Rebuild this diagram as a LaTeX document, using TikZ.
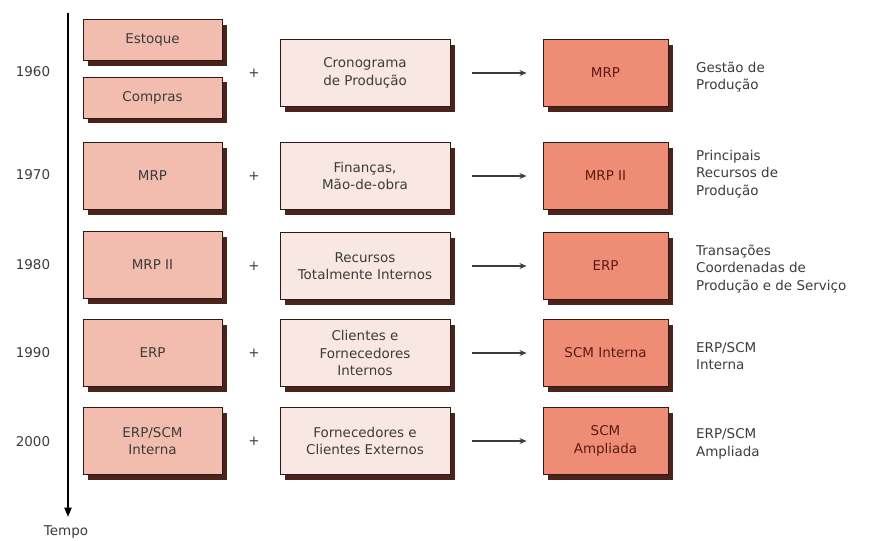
\documentclass[tikz,border=0pt]{standalone}
\usepackage{fontspec}
\setmainfont{DejaVu Sans}
\usetikzlibrary{shadows,arrows.meta}
\definecolor{boxold}{HTML}{F2BCAE}
\definecolor{boxnew}{HTML}{F8E7E3}
\definecolor{boxres}{HTML}{EE8C76}
\definecolor{boxline}{HTML}{2B1A17}
\definecolor{shadowbrown}{HTML}{4A231B}
\definecolor{textgray}{HTML}{3C3C3C}
\definecolor{textbrown}{HTML}{5A1C12}
\newcommand\xold{152.5}
\newcommand\xnew{365}
\newcommand\xres{605.5}

\begin{document}
\begin{tikzpicture}[x=0.03cm, y=-0.03cm, font=\fontsize{11.5}{15}\selectfont,
    base/.style={rectangle, draw=boxline, line width=0.8pt, text=textgray, align=center, minimum height=2cm,
        drop shadow={shadow xshift=0.16cm, shadow yshift=-0.16cm, fill=shadowbrown, opacity=1}},
    old/.style={base, fill=boxold, minimum width=4.17cm},
    new/.style={base, fill=boxnew, minimum width=5.1cm},
    result/.style={base, fill=boxres, minimum width=3.75cm, text=textbrown},
    desc/.style={anchor=west, align=left, text=textgray},
    flow/.style={-{Stealth[length=6pt,width=5pt]}, line width=1pt, draw=textgray, shorten <=0.66cm, shorten >=0.48cm}]
    \useasboundingbox (0,0) rectangle (879,541);

    %Time axis
    \coordinate (t0) at (68,13);
    \coordinate (t1) at (68,517);
    \draw[line width=1.6pt, -{Triangle[length=8pt,width=6pt]}] (t0) -- (t1);
    \node[text=textgray] (tempo) at (66,532) {Tempo};

    %1960
    \node[text=textgray] (y60) at (33,72) {1960};
    \node[old, minimum height=1.23cm] (est) at (\xold,40) {Estoque};
    \node[old, minimum height=1.23cm] (comp) at (\xold,97.5) {Compras};
    \node[text=textgray] (p60) at (254,73) {+};
    \node[new] (n60) at (\xnew,73) {Cronograma\\de Produção};
    \node[result] (r60) at (\xres,73) {MRP};
    \node[desc] (d60) at (692,77) {Gestão de\\Produção};
    \draw[flow] (n60) -- (r60);

    %1970
    \node[text=textgray] (y70) at (33,175) {1970};
    \node[old] (o70) at (\xold,176) {MRP};
    \node[text=textgray] (p70) at (254,176) {+};
    \node[new] (n70) at (\xnew,176) {Finanças,\\Mão-de-obra};
    \node[result] (r70) at (\xres,176) {MRP II};
    \node[desc] (d70) at (692,174) {Principais\\Recursos de\\Produção};
    \draw[flow] (n70) -- (r70);

    %1980
    \node[text=textgray] (y80) at (33,265) {1980};
    \node[old] (o80) at (\xold,265) {MRP II};
    \node[text=textgray] (p80) at (254,266) {+};
    \node[new] (n80) at (\xnew,266) {Recursos\\Totalmente Internos};
    \node[result] (r80) at (\xres,266) {ERP};
    \node[desc] (d80) at (692,269) {Transações\\Coordenadas de\\Produção e de Serviço};
    \draw[flow] (n80) -- (r80);

    %1990
    \node[text=textgray] (y90) at (33,353) {1990};
    \node[old] (o90) at (\xold,353) {ERP};
    \node[text=textgray] (p90) at (254,353) {+};
    \node[new] (n90) at (\xnew,353) {Clientes e\\Fornecedores\\Internos};
    \node[result] (r90) at (\xres,353) {SCM Interna};
    \node[desc] (d90) at (692,356) {ERP/SCM\\Interna};
    \draw[flow] (n90) -- (r90);

    %2000
    \node[text=textgray] (y00) at (33,442) {2000};
    \node[old] (o00) at (\xold,441) {ERP/SCM\\Interna};
    \node[text=textgray] (p00) at (254,441) {+};
    \node[new] (n00) at (\xnew,441) {Fornecedores e\\Clientes Externos};
    \node[result] (r00) at (\xres,441) {SCM\\Ampliada};
    \node[desc] (d00) at (692,444) {ERP/SCM\\Ampliada};
    \draw[flow] (n00) -- (r00);
\end{tikzpicture}
\end{document}
